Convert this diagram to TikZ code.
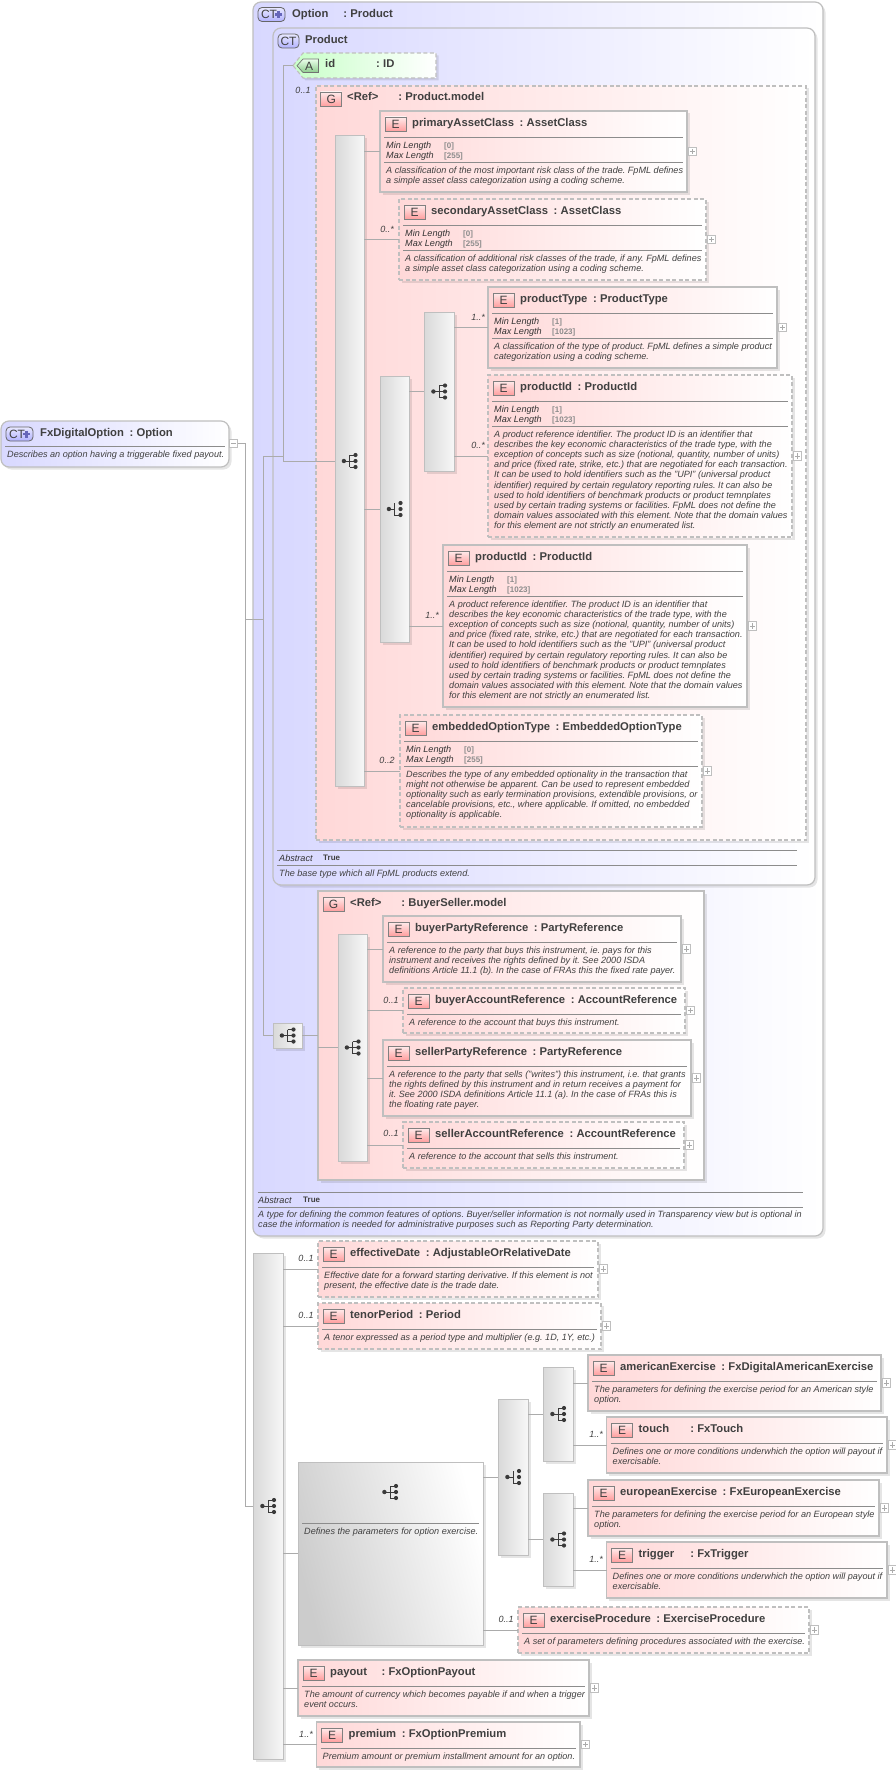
\documentclass[tikz,border=0pt]{standalone}
\usepackage{fontspec}
\setmainfont{Liberation Sans}
\frenchspacing
\usetikzlibrary{shadows,calc}
\definecolor{txt}{HTML}{404040}
\definecolor{edge}{HTML}{BFBFBF}
\definecolor{lnk}{HTML}{ABABAB}
\definecolor{rul}{HTML}{8C8C8C}
\definecolor{pinkbg}{HTML}{FFD8D8}
\definecolor{bluebg}{HTML}{D8D8FF}
\definecolor{greenbg}{HTML}{C8FFC8}
\definecolor{icn}{HTML}{3A3A3A}
\newcommand{\titlefont}{\fontsize{11.25}{13}\selectfont\bfseries}
\newcommand{\descfont}{\fontsize{9.1}{10.17}\selectfont\itshape}
\newcommand{\tcg}[1]{\hspace{#1pt}:\hspace{3.2pt}}
\newcommand{\tc}{\tcg{5.6}}
\tikzset{
  x=1pt,y=-1pt,
  sh/.style={general shadow={shadow xshift=2.5pt,shadow yshift=-2.5pt,fill=black,opacity=.1}},
  boxbase/.style={inner sep=0pt,outer sep=0pt,sh},
  solidbox/.style={boxbase,draw=edge,line width=1.2pt,left color=pinkbg,right color=white},
  dashbox/.style={boxbase,draw=edge,line width=1.1pt,dash pattern=on 4pt off 2.5pt,left color=pinkbg,right color=white},
  ctbox/.style={boxbase,draw=edge,line width=1.2pt,rounded corners=8pt,left color=bluebg,right color=white},
  seqbar/.style={boxbase,draw=edge,line width=1pt,left color=black!15,right color=black!3},
  bigbar/.style={boxbase,draw=edge,line width=1pt,left color=black!20,right color=white,shading angle=105},
  eicon/.style={inner sep=0pt,draw=black!50,line width=.7pt,top color=pinkbg!50,bottom color=red!38,text=txt,font=\fontsize{12}{12}\selectfont,minimum width=21pt,minimum height=14pt},
  cticon/.style={inner sep=0pt,draw=black!60,line width=.8pt,rounded corners=4pt,top color=bluebg!60,bottom color=blue!30,text=txt,font=\fontsize{12}{12}\selectfont,minimum height=14pt},
  ttl/.style={anchor=base west,inner sep=0pt,text=txt,font=\titlefont},
  dsc/.style={anchor=north west,inner sep=0pt,align=left,text=txt,font=\descfont},
  fct/.style={anchor=base west,inner sep=0pt,text=black!80,font=\descfont},
  fval/.style={anchor=base west,inner sep=0pt,text=black!45,font=\fontsize{8}{8}\selectfont\bfseries},
  card/.style={inner sep=0pt,text=txt,font=\fontsize{9}{9}\selectfont\itshape},
  conn/.style={draw=lnk,line width=.9pt},
  rule/.style={draw=rul,line width=.7pt},
  expbox/.style={inner sep=0pt,draw=edge,line width=.7pt,fill=white,minimum width=8.5pt,minimum height=8.5pt},
  seqicon/.pic={
    \draw[icn,line width=.8pt] (-5.6,0) -- (0,0) (0,-6) -- (0,6) (0,-6) -- (6,-6) (0,0) -- (6,0) (0,6) -- (6,6);
    \fill[icn] (-5.6,0) circle (2.2) (6,-6) circle (2.1) (6,0) circle (2.1) (6,6) circle (2.1);
  },
  choiceicon/.pic={
    \draw[icn,line width=.8pt] (-5.6,0) -- (0,0) (0,-6) -- (0,6) -- (6,6);
    \fill[icn] (-5.6,0) circle (2.2) (6,-6) circle (2.1) (6,0) circle (2.1) (6,6) circle (2.1);
  }
}
% box frame by pixel corners: style, name, x1,y1,x2,y2
\newcommand{\frm}[6]{\node[#1,minimum width={#5-(#3)},minimum height={#6-(#4)}] (#2) at ({(#3+#5)/2},{(#4+#6)/2}) {};}
% name, style, x1,y1,x2,y2,title
\newcommand{\elemhead}[7]{%
  \frm{#2}{#1}{#3}{#4}{#5}{#6}
  \node[eicon] (#1-i) at (#3+15.5,#4+13) {E};
  \node[ttl] (#1-t) at (#3+32,#4+15.7) {#7};
  \node[expbox] (#1-x) at ({#5+5.5},{(#4+#6)/2}) {};
  \draw[lnk,line width=.6pt] ($(#1-x.center)+(-2.6,0)$) -- ($(#1-x.center)+(2.6,0)$) ($(#1-x.center)+(0,-2.6)$) -- ($(#1-x.center)+(0,2.6)$);
}
% name,x1,y1,x2,desc
\newcommand{\elemdesc}[5]{%
  \draw[rule] (#2+4,#3+26.5) -- (#4-4,#3+26.5);
  \node[dsc] (#1-d) at (#2+6,#3+30) {\rule{0pt}{7pt}#5};
}
% name,x1,y1,x2,min,max,desc
\newcommand{\elemfacet}[7]{%
  \draw[rule] (#2+4,#3+26.5) -- (#4-4,#3+26.5);
  \node[fct] (#1-a) at (#2+6,#3+37) {Min Length};
  \node[fval] (#1-av) at (#2+64,#3+37) {[#5]};
  \node[fct] (#1-b) at (#2+6,#3+47) {Max Length};
  \node[fval] (#1-bv) at (#2+64,#3+47) {[#6]};
  \draw[rule] (#2+4,#3+51.5) -- (#4-4,#3+51.5);
  \node[dsc] (#1-d) at (#2+6,#3+55) {\rule{0pt}{7pt}#7};
}
\begin{document}
\begin{tikzpicture}
\useasboundingbox (0,0) rectangle (896,1774);
% Option
\frm{ctbox}{opt}{253}{2}{823}{1236}
\node[cticon,minimum width=27pt] (opt-i) at (271.5,14.5) {\hspace{-5pt}CT};
\draw[black!45!blue!60!white,line width=2.2pt] (278.5,11) -- (278.5,18) (275,14.5) -- (282,14.5);
\node[ttl] (opt-t) at (292,17.5) {Option\tcg{15}Product};
% Product
\frm{ctbox}{prod}{273}{28}{815}{885}
\node[cticon,minimum width=21pt] (prod-i) at (288.5,41) {CT};
\node[ttl] (prod-t) at (305,43.5) {Product};
% id
\node[inner sep=0pt,minimum width=143pt,minimum height=25pt] (idb) at (364.5,65.5) {};
\path[sh,draw=edge,line width=1.1pt,dash pattern=on 4pt off 2.5pt,left color=greenbg,right color=white] (293,65.5) -- (303,53) -- (436,53) -- (436,78) -- (303,78) -- cycle;
\path[draw=black!55,line width=.7pt,top color=green!8,bottom color=green!55!black!45] (297,65.7) -- (303,59) -- (318.5,59) -- (318.5,72.5) -- (303,72.5) -- cycle;
\node[text=txt,inner sep=0pt,font=\fontsize{12}{12}\selectfont] (idb-i) at (309,66) {A};
\node[ttl] (idb-t) at (325,68) {id\tcg{41}ID};
% Product.model
\frm{dashbox}{gmodel}{316}{86}{806}{840}
\node[eicon] (gmodel-i) at (331.2,99) {G};
\node[ttl] (gmodel-t) at (347,101) {<Ref>\tcg{20}Product.model};
\frm{seqbar}{bara}{335}{136}{364}{786}
\frm{seqbar}{barb}{380}{376}{409}{642}
\frm{seqbar}{barc}{424}{312}{454}{471}
\pic at (bara.center) {seqicon};
\pic at (barb.center) {choiceicon};
\pic at (barc.center) {seqicon};
\elemhead{primary}{solidbox}{380}{111}{687}{192}{primaryAssetClass\tc AssetClass}
\elemfacet{primary}{380}{111}{687}{0}{255}{A classification of the most important risk class of the trade. FpML defines\\a simple asset class categorization using a coding scheme.}
\elemhead{secondary}{dashbox}{399}{199}{706}{280}{secondaryAssetClass\tc AssetClass}
\elemfacet{secondary}{399}{199}{706}{0}{255}{A classification of additional risk classes of the trade, if any. FpML defines\\a simple asset class categorization using a coding scheme.}
\elemhead{ptype}{solidbox}{488}{287}{777}{368}{productType\tc ProductType}
\elemfacet{ptype}{488}{287}{777}{1}{1023}{A classification of the type of product. FpML defines a simple product\\categorization using a coding scheme.}
\elemhead{pida}{dashbox}{488}{375}{792}{537}{productId\tc ProductId}
\elemfacet{pida}{488}{375}{792}{1}{1023}{A product reference identifier. The product ID is an identifier that\\describes the key economic characteristics of the trade type, with the\\exception of concepts such as size (notional, quantity, number of units)\\and price (fixed rate, strike, etc.) that are negotiated for each transaction.\\It can be used to hold identifiers such as the "UPI" (universal product\\identifier) required by certain regulatory reporting rules. It can also be\\used to hold identifiers of benchmark products or product temnplates\\used by certain trading systems or facilities. FpML does not define the\\domain values associated with this element. Note that the domain values\\for this element are not strictly an enumerated list.}
\elemhead{pidb}{solidbox}{443}{545}{747}{707}{productId\tc ProductId}
\elemfacet{pidb}{443}{545}{747}{1}{1023}{A product reference identifier. The product ID is an identifier that\\describes the key economic characteristics of the trade type, with the\\exception of concepts such as size (notional, quantity, number of units)\\and price (fixed rate, strike, etc.) that are negotiated for each transaction.\\It can be used to hold identifiers such as the "UPI" (universal product\\identifier) required by certain regulatory reporting rules. It can also be\\used to hold identifiers of benchmark products or product temnplates\\used by certain trading systems or facilities. FpML does not define the\\domain values associated with this element. Note that the domain values\\for this element are not strictly an enumerated list.}
\elemhead{embed}{dashbox}{400}{715}{702}{827}{embeddedOptionType\tc EmbeddedOptionType}
\elemfacet{embed}{400}{715}{702}{0}{255}{Describes the type of any embedded optionality in the transaction that\\might not otherwise be apparent. Can be used to represent embedded\\optionality such as early termination provisions, extendible provisions, or\\cancelable provisions, etc., where applicable. If omitted, no embedded\\optionality is applicable.}
% Product abstract
\draw[rule] (277,850) -- (797,850) (277,865) -- (797,865);
\node[fct] (prod-a) at (279,861) {Abstract};
\node[fval,text=txt] (prod-av) at (323,860) {True};
\node[dsc] (prod-d) at (279,869) {\rule{0pt}{7pt}The base type which all FpML products extend.};
% BuyerSeller
\frm{seqbar}{bars}{273}{1023}{302}{1048}
\pic at (bars.center) {seqicon};
\frm{solidbox}{gbs}{318}{891}{704}{1180}
\node[eicon] (gbs-i) at (333.5,904) {G};
\node[ttl] (gbs-t) at (350,906) {<Ref>\tcg{20}BuyerSeller.model};
\frm{seqbar}{bard}{338}{934}{367}{1161}
\pic at (bard.center) {seqicon};
\elemhead{bpr}{solidbox}{383}{916}{681}{982}{buyerPartyReference\tc PartyReference}
\elemdesc{bpr}{383}{916}{681}{A reference to the party that buys this instrument, ie. pays for this\\instrument and receives the rights defined by it. See 2000 ISDA\\definitions Article 11.1 (b). In the case of FRAs this the fixed rate payer.}
\elemhead{bar}{dashbox}{403}{988}{685}{1033}{buyerAccountReference\tc AccountReference}
\elemdesc{bar}{403}{988}{685}{A reference to the account that buys this instrument.}
\elemhead{spr}{solidbox}{383}{1040}{691}{1116}{sellerPartyReference\tc PartyReference}
\elemdesc{spr}{383}{1040}{691}{A reference to the party that sells ("writes") this instrument, i.e. that grants\\the rights defined by this instrument and in return receives a payment for\\it. See 2000 ISDA definitions Article 11.1 (a). In the case of FRAs this is\\the floating rate payer.}
\elemhead{sar}{dashbox}{403}{1122}{684}{1168}{sellerAccountReference\tc AccountReference}
\elemdesc{sar}{403}{1122}{684}{A reference to the account that sells this instrument.}
% Option abstract
\draw[rule] (258,1192) -- (803,1192) (258,1207) -- (803,1207);
\node[fct] (opt-a) at (258,1203) {Abstract};
\node[fval,text=txt] (opt-av) at (303,1202) {True};
\node[dsc] (opt-d) at (258,1210) {\rule{0pt}{7pt}A type for defining the common features of options. Buyer/seller information is not normally used in Transparency view but is optional in\\case the information is needed for administrative purposes such as Reporting Party determination.};
% root
\node[boxbase,draw=edge,line width=1.2pt,rounded corners=8pt,left color=bluebg,right color=white,minimum width=228pt,minimum height=46pt] (root) at (115,444) {};
\node[cticon,minimum width=27pt] (root-i) at (19.5,434) {\hspace{-5pt}CT};
\draw[black!45!blue!60!white,line width=2.2pt] (26.5,430.5) -- (26.5,437.5) (23,434) -- (30,434);
\node[ttl] (root-t) at (40,436) {FxDigitalOption\tc Option};
\draw[rule] (5,446) -- (225,446);
\node[dsc] (root-d) at (7,450) {\rule{0pt}{7pt}Describes an option having a triggerable fixed payout.};
\node[expbox] (root-x) at (233.5,443.5) {};
\draw[lnk,line width=.6pt] (231,443.5) -- (236,443.5);
% lower part
\frm{seqbar}{bare}{253}{1253}{283}{1759}
\pic at (bare.center) {seqicon};
\elemhead{eff}{dashbox}{318}{1241}{598}{1297}{effectiveDate\tc AdjustableOrRelativeDate}
\elemdesc{eff}{318}{1241}{598}{Effective date for a forward starting derivative. If this element is not\\present, the effective date is the trade date.}
\elemhead{ten}{dashbox}{318}{1303}{601}{1349}{tenorPeriod\tc Period}
\elemdesc{ten}{318}{1303}{601}{A tenor expressed as a period type and multiplier (e.g. 1D, 1Y, etc.)}
\frm{bigbar}{bigg}{298}{1462}{483}{1645}
\pic at (390,1492) {seqicon};
\draw[rule] (302,1523) -- (479,1523);
\node[dsc] (bigg-d) at (304,1527) {\rule{0pt}{7pt}Defines the parameters for option exercise.};
\frm{seqbar}{barf}{498}{1399}{528}{1555}
\pic at (barf.center) {choiceicon};
\frm{seqbar}{barg}{543}{1367}{573}{1461}
\pic at (barg.center) {seqicon};
\frm{seqbar}{barh}{543}{1493}{573}{1586}
\pic at (barh.center) {seqicon};
\elemhead{ame}{solidbox}{588}{1355}{881}{1411}{americanExercise\tc FxDigitalAmericanExercise}
\elemdesc{ame}{588}{1355}{881}{The parameters for defining the exercise period for an American style\\option.}
\elemhead{tou}{solidbox}{606.5}{1417}{887}{1473}{touch\tcg{21}FxTouch}
\elemdesc{tou}{606.5}{1417}{887}{Defines one or more conditions underwhich the option will payout if\\exercisable.}
\elemhead{eur}{solidbox}{588}{1480}{879}{1536}{europeanExercise\tc FxEuropeanExercise}
\elemdesc{eur}{588}{1480}{879}{The parameters for defining the exercise period for an European style\\option.}
\elemhead{tri}{solidbox}{606.5}{1542}{887}{1598}{trigger\tcg{16}FxTrigger}
\elemdesc{tri}{606.5}{1542}{887}{Defines one or more conditions underwhich the option will payout if\\exercisable.}
\elemhead{pro}{dashbox}{518}{1607}{809}{1653}{exerciseProcedure\tc ExerciseProcedure}
\elemdesc{pro}{518}{1607}{809}{A set of parameters defining procedures associated with the exercise.}
\elemhead{pay}{solidbox}{298}{1660}{589}{1716}{payout\tcg{14.5}FxOptionPayout}
\elemdesc{pay}{298}{1660}{589}{The amount of currency which becomes payable if and when a trigger\\event occurs.}
\elemhead{pre}{solidbox}{316.5}{1722}{580}{1767}{premium\tc FxOptionPremium}
\elemdesc{pre}{316.5}{1722}{580}{Premium amount or premium installment amount for an option.}
% trunk junctions
\coordinate (jroot) at (245,443.5);
\coordinate (jopt) at (245,619);
\coordinate (jtop) at (263,619);
\coordinate (jmid) at (263,456);
\coordinate (jprod) at (283,456);
% connectors
\draw[conn] (root-x.east) -- (jroot) -- (jroot |- bare.west) -- (bare.west);
\draw[conn] (jopt) -- (jtop);
\draw[conn] (jmid) -- (jmid |- bars.west) -- (bars.west);
\draw[conn] (jmid) -- (jprod);
\draw[conn] (idb.west) -- (idb.west -| jprod) -- (jprod |- bara.west) -- (bara.west);
\draw[conn] (bars.east) -- (gbs.west);
\draw[conn] (gbs.west |- bard.west) -- (bard.west);
\foreach \p/\q in {bara/primary,bara/secondary,bara/embed,bara/barb,barb/barc,barb/pidb,barc/ptype,barc/pida,bard/bpr,bard/bar,bard/spr,bard/sar,bare/eff,bare/ten,bare/bigg,bare/pay,bare/pre,bigg/barf,bigg/pro,barf/barg,barf/barh,barg/ame,barg/tou,barh/eur,barh/tri}
  \draw[conn] (\q.west -| \p.east) -- (\q.west);
% cardinalities
\node[card] (c1) at (303,90) {0..1};
\node[card] (c2) at (387,229) {0..*};
\node[card] (c3) at (478,317) {1..*};
\node[card] (c4) at (478,445) {0..*};
\node[card] (c5) at (432,615) {1..*};
\node[card] (c6) at (387,760) {0..2};
\node[card] (c7) at (391,1000) {0..1};
\node[card] (c8) at (391,1133) {0..1};
\node[card] (c9) at (306,1258) {0..1};
\node[card] (c10) at (306,1315) {0..1};
\node[card] (c11) at (596,1434) {1..*};
\node[card] (c12) at (596,1559) {1..*};
\node[card] (c13) at (506,1619) {0..1};
\node[card] (c14) at (306,1734) {1..*};
\end{tikzpicture}
\end{document}
